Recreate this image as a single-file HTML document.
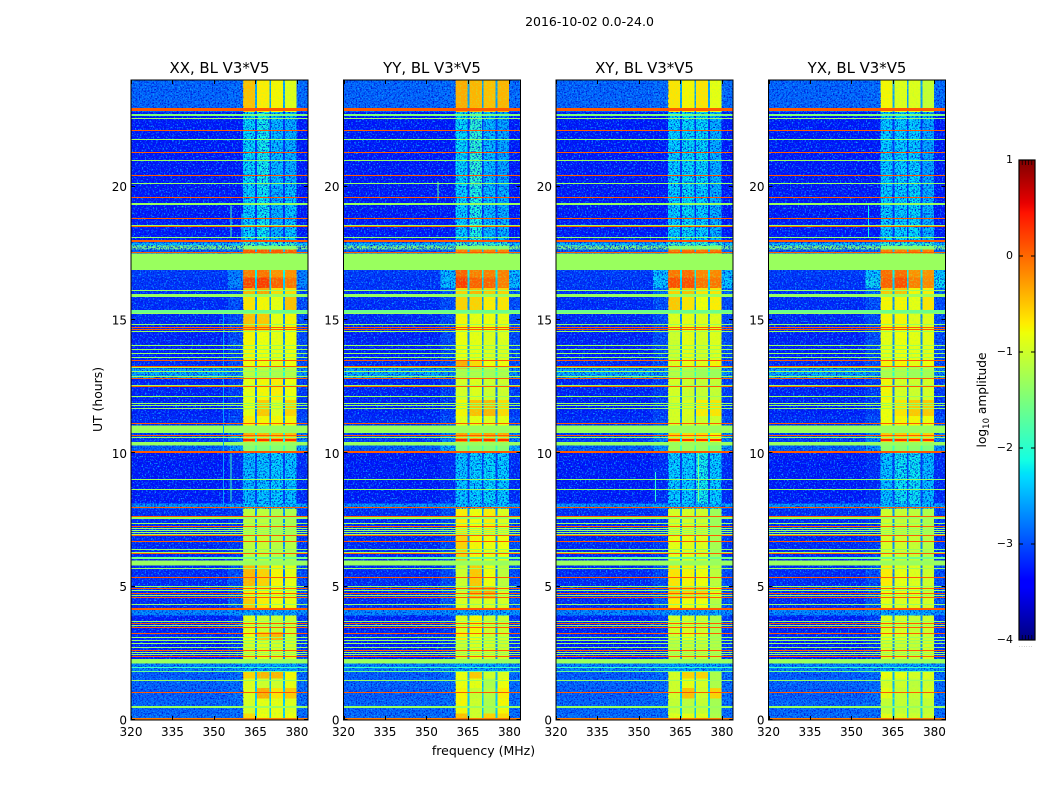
<!DOCTYPE html>
<html lang="en">
<head>
<meta charset="utf-8">
<title>2016-10-02 0.0-24.0</title>
<style>
html,body{margin:0;padding:0;background:#fff;width:1050px;height:800px;overflow:hidden}
svg{display:block}
text{font-family:"DejaVu Sans","Liberation Sans",sans-serif;fill:#000}
</style>
</head>
<body>
<svg id="figure" xmlns="http://www.w3.org/2000/svg" width="1050" height="800" viewBox="0 0 1050 800">
<defs>
<filter id="grain-light" x="0" y="0" width="100%" height="100%" color-interpolation-filters="sRGB"><feTurbulence type="fractalNoise" baseFrequency="0.62" numOctaves="2" seed="3"/><feColorMatrix type="matrix" values="0 0 0 0 0.05  0 0 0 0 0.62  0 0 0 0 1  4 0 0 0 -2"/></filter>
<filter id="grain-dark" x="0" y="0" width="100%" height="100%" color-interpolation-filters="sRGB"><feTurbulence type="fractalNoise" baseFrequency="0.66" numOctaves="2" seed="11"/><feColorMatrix type="matrix" values="0 0 0 0 0  0 0 0 0 0.1  0 0 0 0 0.85  0 4 0 0 -1.9"/></filter>
<filter id="grain-warm" x="0" y="0" width="100%" height="100%" color-interpolation-filters="sRGB"><feTurbulence type="fractalNoise" baseFrequency="0.55" numOctaves="2" seed="23"/><feColorMatrix type="matrix" values="0 0 0 0 0.62  0 0 0 0 1  0 0 0 0 0.3  4 0 0 0 -2"/></filter>
</defs>
<text x="589.5" y="26" text-anchor="middle" font-size="12.5">2016-10-02 0.0-24.0</text>
<text x="483.5" y="755" text-anchor="middle" font-size="12.5">frequency (MHz)</text>
<text transform="translate(102 399.5) rotate(-90)" text-anchor="middle" font-size="12.4">UT (hours)</text>
<text transform="translate(986 400) rotate(-90)" text-anchor="middle" font-size="12.2">log<tspan font-size="8.5" dy="3">10</tspan><tspan dy="-3"> amplitude</tspan></text>
<g id="panels"></g>
<g id="colorbar"></g>
</svg>
<script>
// ---- axis labels ----
const polarizations = ["XX", "YY", "XY", "YX"];
const freqTicks = [320, 335, 350, 365, 380];
const utTicks = [0, 5, 10, 15, 20];
const colorTicks = [1, 0, -1, -2, -3, -4];

// ---- frequency bin edges (MHz): off, edge, band1, gap, band2, gap, band3, gap, band4, edge ----
const freqEdges = [320, 355, 360.5, 364.8, 365.6, 370.1, 370.7, 375, 375.7, 379.9, 384];

// ---- time-block edges (UT hours) ----
const utEdges = [0,0.25,0.8,1.2,1.55,1.82,2.12,2.28,3.0,3.3,3.92,4.14,4.55,5.0,5.8,5.98,7.0,7.93,8.12,10.03,10.3,10.43,10.77,11.05,11.4,12.0,12.8,13.18,13.48,14.6,15.28,15.88,16.2,16.6,16.88,17.5,17.64,17.79,17.9,20,22.8,24];

// ---- log10 amplitude per time block ----
const offBand = [-2.8,-2.85,-2.9,-2.85,-2.9,-2.65,-1.32,-3.25,-3.2,-3.25,-2.65,-3.2,-3.2,-3.2,-1.32,-3.2,-3.2,-2.6,-3.3,-2.9,-1.32,-3.1,-1.32,-3.2,-3.25,-3.25,-2.45,-3.2,-3.25,-3.2,-3.2,-3.15,-3.15,-3.1,-1.32,-2.9,-1.5,-2.35,-3.3,-3.3,-2.85];
const gapBand = [-2.4,-2.4,-2.4,-2.5,-2.5,-2.6,-1.32,-2.7,-2.7,-2.7,-2.6,-2.7,-2.6,-2.8,-1.32,-2.7,-2.7,-2.5,-3.0,-1.9,-1.32,-2.2,-1.32,-2.7,-2.8,-2.8,-2.0,-2.6,-2.7,-2.7,-2.7,-2.5,-2.4,-2.2,-1.32,-2.5,-1.5,-2.3,-3.05,-3.05,-2.6];
const flagRow = [-1.32,-1.32,-1.32,-1.32,-1.32];
const cyanRow = [-2.6,-2.5,-2.5,-2.5,-2.5];
const seamRow = [-1.5,-1.45,-1.45,-1.45,-1.45];

// each row: [edge, band1, band2, band3, band4]
const levelsXX = [[-2.8,-.6,-.8,-.85,-.8],[-2.8,-.95,-.85,-.85,-.9],[-2.8,-.9,-.35,-.65,-.5],[-2.8,-.9,-1,-1,-.85],[-2.8,-.55,-.4,-.4,-.75],cyanRow,flagRow,[-3.1,-.95,-.9,-.95,-.95],[-3.1,-.8,-.5,-.4,-1],[-3.1,-.9,-1,-1.05,-1],cyanRow,[-2.9,-.5,-.7,-.8,-.85],[-3,-.7,-.75,-.75,-.85],[-3,-.4,-.55,-.75,-.85],flagRow,[-3.1,-1.1,-1.05,-1.15,-1.15],[-3.1,-1.1,-1.1,-1.2,-1.2],[-2.5,-2.35,-2.35,-2.35,-2.4],[-3.2,-2.4,-2.35,-2.3,-2.35],[-2.5,-1.45,-1.45,-1.45,-1.45],flagRow,[-2.7,-.35,-.4,-.45,-.45],flagRow,[-3,-.7,-.75,-.75,-.75],[-3.1,-.85,-.5,-.9,-.55],[-3.1,-.85,-.75,-.7,-.8],[-2.6,-1.1,-1.15,-1.2,-1.15],[-3,-.8,-.8,-.85,-.8],[-3,-.75,-.8,-.85,-.8],[-3,-.45,-.5,-.85,-.75],[-3,-.65,-.75,-.85,-.45],[-3.0,-.4,-.3,-.6,-.6],[-2.65,.2,.25,.05,-.05],[-2.7,-.1,-.05,-.2,-.2],flagRow,[-2.8,.1,.1,.1,.05],seamRow,[-2.3,-1.9,-2,-2,-2],[-3.3,-2.3,-2.2,-2.45,-2.35],[-3.3,-2.25,-2.15,-2.4,-2.45],[-2.8,-.45,-.7,-.75,-.9]];
const levelsYY = [[-2.8,-.45,-1,-.55,-.6],[-2.8,-.75,-1,-1.2,-.75],[-2.8,-.75,-1.05,-1.15,-.7],[-2.8,-.8,-.85,-1.2,-.8],[-2.8,-.8,-.5,-1,-.9],cyanRow,flagRow,[-3.1,-1,-.9,-.95,-1],[-3.1,-.7,-.8,-1,-1],[-3.1,-.9,-.75,-1,-1],cyanRow,[-2.9,-.9,-.95,-.9,-.95],[-3,-.95,-.4,-.35,-.95],[-3,-1,-.5,-.8,-1.1],flagRow,[-3,-.55,-.75,-.8,-.8],[-3,-.7,-.8,-.7,-.9],[-2.5,-2.35,-2.35,-2.35,-2.35],[-3.2,-2.35,-2.3,-2.25,-2.3],[-2.45,-1.45,-1.45,-1.45,-1.45],flagRow,[-2.7,-.3,-.35,-.3,-.35],flagRow,[-3,-.85,-.85,-.9,-.85],[-3.1,-.75,-.45,-.4,-.6],[-3.1,-.95,-.9,-1,-1],[-2.6,-1.2,-1.2,-1.25,-1.2],[-3,-.35,-.6,-.8,-.8],[-3,-.8,-.85,-.9,-.9],[-3,-.75,-.85,-.8,-.85],[-3,-.55,-.55,-.7,-.65],[-2.9,-.55,-.4,-.5,-.55],[-2.35,.25,.05,.05,-.1],[-2.35,.05,-.1,-.1,-.1],flagRow,[-2.8,-.1,-.1,-.1,-.1],seamRow,[-2.3,-1.9,-1.9,-2,-2],[-3.3,-2.3,-2.1,-2.4,-2.45],[-3.3,-2.25,-2,-2.4,-2.5],[-2.8,-.35,-.4,-.45,-.4]];
const levelsXY = [[-2.8,-.9,-.85,-.9,-1.2],[-2.8,-1.05,-1.1,-1.05,-1.25],[-2.8,-1,-.45,-1,-.55],[-2.8,-1,-.85,-.95,-1.2],[-2.8,-.95,-.55,-.55,-1.2],cyanRow,flagRow,[-3.1,-1.1,-1.05,-1.05,-1.15],[-3.1,-1,-.85,-.95,-1.2],[-3.1,-.95,-.95,-1,-1.2],cyanRow,[-2.9,-.7,-.8,-.8,-1.15],[-3,-.5,-.55,-.55,-.85],[-3,-.65,-.75,-.8,-1.1],flagRow,[-3.1,-.85,-.85,-.9,-1.25],[-3.1,-.95,-.95,-1,-1.3],[-2.5,-2.4,-2.4,-2.4,-2.4],[-3.2,-2.3,-2.3,-2.15,-2.3],[-2.6,-1.3,-1.3,-1.3,-1.5],flagRow,[-2.7,-.55,-.6,-.6,-.75],flagRow,[-3,-.95,-.95,-1,-1],[-3.1,-.95,-.9,-.7,-.65],[-3.1,-.95,-1,-1.05,-1.05],[-2.6,-1.15,-1.2,-1.3,-1.3],[-3,-.9,-.85,-.9,-.75],[-3,-1,-.85,-.95,-.9],[-3,-.9,-.85,-.9,-.9],[-3,-.5,-.65,-.8,-.7],[-2.8,-.55,-.45,-.65,-.65],[-2.3,.15,.15,-.05,-.05],[-2.35,-.05,0,-.15,-.15],flagRow,[-2.8,-.05,0,-.05,-.05],seamRow,[-2.3,-2,-2,-2,-2],[-3.3,-2.3,-2.25,-2.3,-2.45],[-3.3,-2.3,-2.25,-2.25,-2.45],[-2.8,-.65,-.75,-.65,-.85]];
const levelsYX = [[-2.8,-.85,-.95,-1,-1],[-2.8,-1.05,-1.05,-1.1,-1.05],[-2.8,-.85,-1.05,-1.05,-.95],[-2.8,-.95,-1,-1.1,-1],[-2.8,-.8,-.85,-.95,-.9],cyanRow,flagRow,[-3.1,-.95,-1,-1.05,-.95],[-3.1,-.85,-.9,-1,-1],[-3.1,-.9,-.95,-1.05,-1],cyanRow,[-2.9,-.85,-.9,-.9,-.95],[-3,-.8,-.85,-.85,-1],[-3,-.7,-.85,-.9,-1],flagRow,[-3.1,-.95,-1,-1.05,-1.15],[-3.1,-1,-1.05,-1.1,-1.2],[-2.5,-2.4,-2.4,-2.4,-2.4],[-3.2,-2.35,-2.2,-2.2,-2.4],[-2.6,-1.4,-1.4,-1.4,-1.5],flagRow,[-2.7,-.5,-.5,-.55,-.55],flagRow,[-3,-.8,-.75,-.75,-.8],[-3.1,-.8,-.65,-.5,-.5],[-3.1,-.75,-.95,-1,-.95],[-2.6,-1.2,-1.2,-1.3,-1.25],[-3,-.75,-.75,-.85,-.8],[-3,-.85,-.8,-.85,-.85],[-3,-.75,-.75,-.9,-.9],[-3,-.75,-.75,-.85,-.65],[-2.8,-.5,-.45,-.75,-.7],[-2.2,.05,.15,-.1,-.15],[-2.3,0,0,-.2,-.2],flagRow,[-2.8,-.1,-.1,-.05,-.1],seamRow,[-2.3,-2,-2,-2,-2],[-3.3,-2.3,-2.3,-2.25,-2.45],[-3.3,-2.3,-2.3,-2.3,-2.5],[-2.8,-.75,-.9,-.9,-1.05]];
const levelsByPol = [levelsXX, levelsYY, levelsXY, levelsYX];

// ---- broadband interference lines ----
const lineHours = [0.045,0.48,1.04,1.47,1.83,1.98,2.37,2.44,2.52,2.61,2.72,2.86,2.98,3.08,3.25,3.46,3.53,3.62,3.67,4.16,4.33,4.57,4.67,4.72,4.86,4.94,5.01,5.32,5.69,6.09,6.23,6.29,6.40,6.69,6.91,6.96,7.04,7.11,7.17,7.24,7.37,7.595,7.64,7.96,8.63,9.02,10.07,10.6,10.68,11.13,11.69,11.78,11.86,12.12,12.51,12.55,12.79,12.89,13.08,13.21,13.26,13.47,13.6,13.74,13.89,14.02,14.58,14.64,14.7,14.83,15.23,15.32,15.92,16.11,17.52,17.95,18.07,18.51,18.55,18.79,19.33,19.6,20.13,20.43,20.97,21.27,21.76,22.09,22.54,22.69,22.88];
const lineThickness = [.09,.09,.05,.05,.05,.05,.05,.05,.05,.05,.05,.05,.05,.05,.05,.05,.05,.05,.05,.07,.05,.05,.05,.05,.05,.05,.05,.05,.05,.07,.05,.05,.05,.05,.05,.05,.05,.05,.05,.05,.05,.13,.05,.05,.05,.05,.07,.05,.05,.05,.05,.05,.05,.05,.05,.05,.05,.05,.05,.05,.05,.05,.05,.05,.05,.05,.05,.05,.05,.05,.05,.12,.12,.05,.05,.09,.05,.05,.05,.05,.08,.05,.05,.05,.05,.05,.05,.05,.05,.09,.125];
const lineLevels = [-.1,-1.32,.08,-1.32,-1.6,-1.9,.08,-1.32,-1.32,.08,-1.32,-1.32,-1.32,-1.32,.08,.08,-1.32,.08,-1.32,.08,-1.32,.08,-1.32,.08,-1.32,.08,-1.32,.08,-1.32,-1.6,.08,-1.32,-1.32,.08,.08,-1.32,-1.32,-1.32,-1.32,.08,-1.32,-1.32,.08,.08,-1.32,-1.32,.08,-1.32,.08,.08,-1.32,-1.32,-1.32,-1.32,.08,-1.32,.08,-1.32,-1.32,-1.32,.08,.08,-1.32,-1.32,-1.32,-1.32,-1.32,.08,.08,-1.32,-1.32,-1.6,-1.32,-1.32,.08,.08,-1.32,.08,-1.32,.08,-1.32,.08,-1.32,.08,-1.32,.08,-1.32,.08,-1.32,-1.5,.08];

// ---- in-band-only bright line near 10.5 UT ----
const bandLineHours = [10.52];
const bandLineLevels = [0.3];

// ---- narrow vertical spurs: panel index, MHz, start UT, end UT, level ----
const spurPanel = [0,0,0,0,1,2,2,3];
const spurFreq = [355.9,360,353.3,355.9,354,371.3,355.8,355.9];
const spurStart = [18.1,17.95,8.0,8.2,19.5,8.2,8.2,18.1];
const spurEnd = [19.3,19.0,15.3,10.0,20.2,10.0,9.3,19.3];
const spurLevels = [-1.9,-2.2,-2.6,-1.9,-1.7,-1.5,-2,-2.2];

// ---- layout + scales ----
const SVGNS = "http://www.w3.org/2000/svg";
const panelLeft = [131, 343.5, 556, 768.5];
const panelWidth = 177, panelTop = 80, panelBottom = 720;
const FLAG_LEVEL = -1.32;
const COOL_LIMIT = -1.6;
function xScale(p, mhz) { return panelLeft[p] + (mhz - 320) / 64 * panelWidth; }
function yScale(ut) { return panelBottom - ut / 24 * (panelBottom - panelTop); }
function piece(a, b, t) { return a + (b - a) * t; }
function channel(stops, f) {
  for (let i = 1; i < stops.length; i++) {
    if (f <= stops[i][0]) return piece(stops[i-1][1], stops[i][1], (f - stops[i-1][0]) / (stops[i][0] - stops[i-1][0]));
  }
  return stops[stops.length - 1][1];
}
const jetR = [[0,0],[.35,0],[.66,1],[.89,1],[1,.5]];
const jetG = [[0,0],[.125,0],[.375,1],[.64,1],[.91,0],[1,0]];
const jetB = [[0,.5],[.11,1],[.34,1],[.65,0],[1,0]];
function colorOf(level) {
  const f = Math.max(0, Math.min(1, (level + 4) / 5));
  return "rgb(" + Math.round(channel(jetR, f) * 255) + "," + Math.round(channel(jetG, f) * 255) + "," + Math.round(channel(jetB, f) * 255) + ")";
}
function make(tag, attrs, parent) {
  const el = document.createElementNS(SVGNS, tag);
  for (const k in attrs) el.setAttribute(k, attrs[k]);
  parent.appendChild(el);
  return el;
}
function levelFor(p, block, col) {
  const row = levelsByPol[p][block];
  if (col === 0) return offBand[block];
  if (col === 1 || col === 9) return row[0];
  if (col === 2) return row[1];
  if (col === 4) return row[2];
  if (col === 6) return row[3];
  if (col === 8) return row[4];
  return gapBand[block];
}

const panelsRoot = document.getElementById("panels");
polarizations.forEach(function (pol, p) {
  const g = make("g", {"shape-rendering": "crispEdges"}, panelsRoot);
  
  
  const L = panelLeft[p];

  // heatmap cells
  for (let b = 0; b < utEdges.length - 1; b++) {
    for (let c = 0; c < freqEdges.length - 1; c++) {
      const x0 = xScale(p, freqEdges[c]), x1 = xScale(p, freqEdges[c + 1]);
      const y0 = yScale(utEdges[b + 1]), y1 = yScale(utEdges[b]);
      const cell = make("rect", {x: x0, y: y0, width: x1 - x0, height: y1 - y0, fill: colorOf(levelFor(p, b, c))}, g);
      
      
    }
  }

  // receiver grain (visual texture only, carries no data)
  const coolSpans = [[320, 360.5], [379.9, 384]];
  coolSpans.forEach(function (span) {
    ["grain-light", "grain-dark"].forEach(function (id) {
      const gr = make("rect", {x: xScale(p, span[0]), y: panelTop, width: xScale(p, span[1]) - xScale(p, span[0]), height: panelBottom - panelTop, fill: "#000", filter: "url(#" + id + ")"}, g);
      
      
    });
  });
  for (let b = 0; b < utEdges.length - 1; b++) {
    const cool = levelsByPol[p][b][1] < COOL_LIMIT;
    const y0 = yScale(utEdges[b + 1]), y1 = yScale(utEdges[b]);
    const bandGrain = make("rect", {x: xScale(p, 360.5), y: y0, width: xScale(p, 379.9) - xScale(p, 360.5), height: y1 - y0, fill: "#000", filter: cool ? "url(#grain-dark)" : "url(#grain-warm)", opacity: cool ? 1 : .4}, g);
    
    
  }

  // flagged blocks repaint solid over the texture
  for (let b = 0; b < utEdges.length - 1; b++) {
    if (offBand[b] !== FLAG_LEVEL) continue;
    const fl = make("rect", {x: L, y: yScale(utEdges[b + 1]), width: panelWidth, height: yScale(utEdges[b]) - yScale(utEdges[b + 1]), fill: colorOf(FLAG_LEVEL)}, g);
    
    
  }

  // vertical spurs
  spurFreq.forEach(function (mhz, i) {
    if (spurPanel[i] !== p) return;
    const s = make("rect", {x: xScale(p, mhz), y: yScale(spurEnd[i]), width: 1, height: yScale(spurStart[i]) - yScale(spurEnd[i]), fill: colorOf(spurLevels[i])}, g);
    
    
  });

  // broadband lines, snapped to whole pixels
  lineHours.forEach(function (h, i) {
    const t = lineThickness[i];
    const y0 = Math.round(yScale(h + t / 2));
    const hgt = Math.max(1, Math.round(t / 24 * (panelBottom - panelTop)));
    const ln = make("rect", {x: L, y: y0, width: panelWidth, height: hgt, fill: colorOf(lineLevels[i])}, g);
    
    
  });
  bandLineHours.forEach(function (h, i) {
    [[360.5, 364.8], [365.6, 370.1], [370.7, 375], [375.7, 379.9]].forEach(function (span) {
      const bl = make("rect", {x: xScale(p, span[0]), y: Math.round(yScale(h)), width: xScale(p, span[1]) - xScale(p, span[0]), height: 2, fill: colorOf(bandLineLevels[i])}, g);
      
      
    });
  });

  // frame
  const frame = make("rect", {x: L, y: panelTop, width: panelWidth, height: panelBottom - panelTop, fill: "none", stroke: "#000", "stroke-width": 1}, g);
  
  

  // ticks and labels
  freqTicks.forEach(function (v) {
    const x = Math.round(xScale(p, v)) + .5;
    const t1 = make("line", {x1: x, x2: x, y1: panelBottom, y2: panelBottom - 4, stroke: "#000"}, g);
    
    
    const t2 = make("line", {x1: x, x2: x, y1: panelTop, y2: panelTop + 4, stroke: "#000"}, g);
    
    
    const lb = make("text", {x: xScale(p, v), y: 736, "text-anchor": "middle", "font-size": 12}, g);
    lb.textContent = v;
    
    
  });
  utTicks.forEach(function (v) {
    const y = Math.round(yScale(v)) - .5;
    const t1 = make("line", {x1: L, x2: L + 4, y1: y, y2: y, stroke: "#000"}, g);
    
    
    const t2 = make("line", {x1: L + panelWidth, x2: L + panelWidth - 4, y1: y, y2: y, stroke: "#000"}, g);
    
    
    const lb = make("text", {x: L - 4, y: yScale(v) + 4.5, "text-anchor": "end", "font-size": 12}, g);
    lb.textContent = v;
    
    
  });

  const title = make("text", {x: L + panelWidth / 2, y: 73, "text-anchor": "middle", "font-size": 14.9}, g);
  title.textContent = pol + ", BL V3*V5";
  
  
});

// ---- colorbar ----
const cb = document.getElementById("colorbar");
const cbX = 1019, cbW = 16, cbTop = 160, cbBottom = 640;
function cbY(level) { return cbBottom - (level + 4) / 5 * (cbBottom - cbTop); }
for (let py = cbTop; py < cbBottom; py++) {
  const lvl = -4 + (cbBottom - py - .5) / (cbBottom - cbTop) * 5;
  const strip = make("rect", {x: cbX, y: py, width: cbW, height: 1, fill: colorOf(lvl), "shape-rendering": "crispEdges"}, cb);
  
  
}
const cbFrame = make("rect", {x: cbX, y: cbTop, width: cbW, height: cbBottom - cbTop, fill: "none", stroke: "#000", "stroke-width": 1.2}, cb);


colorTicks.forEach(function (v) {
  const y = cbY(v);
  const t1 = make("line", {x1: cbX, x2: cbX + 4, y1: y, y2: y, stroke: "#000"}, cb);
  
  
  const t2 = make("line", {x1: cbX + cbW, x2: cbX + cbW - 4, y1: y, y2: y, stroke: "#000"}, cb);
  
  
  const lb = make("text", {x: cbX - 6, y: y + 3, "text-anchor": "end", "font-size": 11}, cb);
  lb.textContent = String(v).replace("-", "\u2212");
  
  
});
for (let i = 1; i < 5; i++) {
  [[cbTop, cbTop + 5], [cbBottom, cbBottom - 5]].forEach(function (e) {
    const mt = make("line", {x1: cbX + i * 3.2, x2: cbX + i * 3.2, y1: e[0], y2: e[1], stroke: "#000", "stroke-width": .7}, cb);
    
    
  });
}
const dots = make("text", {x: cbX + cbW / 2 - 1, y: 647, "text-anchor": "middle", "font-size": 5, style: "fill:#777;letter-spacing:.8px"}, cb);
dots.textContent = "......";


</script>
</body>
</html>
